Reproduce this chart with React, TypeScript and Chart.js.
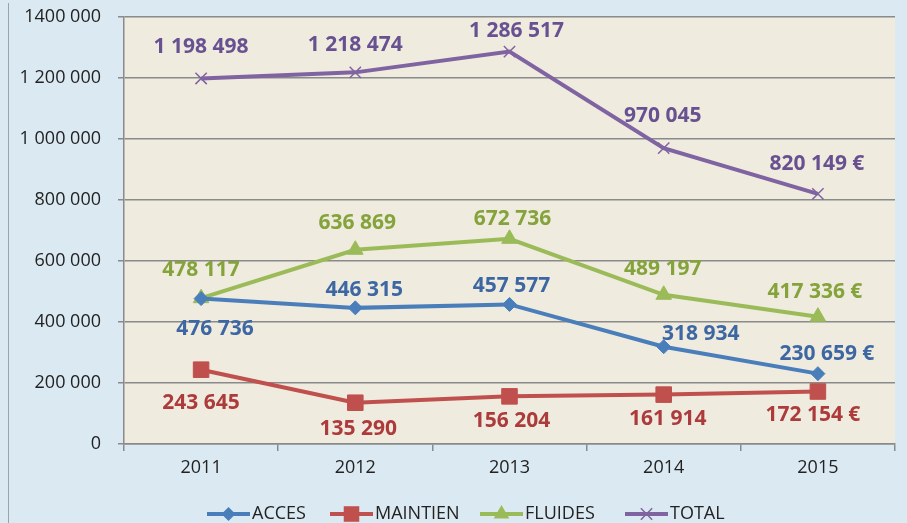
import React, { useEffect, useRef } from "react";
import { Chart, registerables } from "chart.js";

Chart.register(...registerables);

const years = ["2011", "2012", "2013", "2014", "2015"];
const acces = [476736, 446315, 457577, 318934, 230659];
const maintien = [243645, 135290, 156204, 161914, 172154];
const fluides = [478117, 636869, 672736, 489197, 417336];
const total = [1198498, 1218474, 1286517, 970045, 820149];
const seriesNames = ["ACCES", "MAINTIEN", "FLUIDES", "TOTAL"];
const yTickLabels = ["0", "200 000", "400 000", "600 000", "800 000", "1 000 000", "1 200 000", "1400 000"];

// label placement offsets (dx, dy) from each point, in pixels
const accesLabelOffsets = [[14, 30], [9, -18], [2, -18], [37, -13], [9, -20]];
const maintienLabelOffsets = [[0, 33], [3, 26], [2, 25], [4, 24], [-5, 24]];
const fluidesLabelOffsets = [[0, -28], [2, -27], [3, -20], [-1, -26], [-3, -25]];
const totalLabelOffsets = [[0, -31], [0, -27], [7, -21], [-1, -32], [-1, -30]];
const legendX = [207, 330, 480, 625];

const lineColors = ["#4a7ebb", "#c0504d", "#9bbb59", "#8064a2"];
const labelColors = ["#3d67a3", "#ad3b3b", "#84a33a", "#685190"];
const FONT = "'Open Sans', 'DejaVu Sans', sans-serif";

function fmt(v: number, last: boolean) {
  const s = String(v).replace(/\B(?=(\d{3})+(?!\d))/g, " ");
  return last ? s + " €" : s;
}

function drawMarker(ctx: CanvasRenderingContext2D, style: string, x: number, y: number, r: number, color: string) {
  ctx.save();
  ctx.fillStyle = color;
  ctx.strokeStyle = color;
  ctx.lineWidth = 1.5;
  ctx.beginPath();
  if (style === "rectRot") {
    ctx.moveTo(x, y - r); ctx.lineTo(x + r, y); ctx.lineTo(x, y + r); ctx.lineTo(x - r, y); ctx.closePath(); ctx.fill();
  } else if (style === "rect") {
    const s = r * Math.SQRT1_2;
    ctx.rect(x - s, y - s, 2 * s, 2 * s); ctx.fill();
  } else if (style === "triangle") {
    const w = r * Math.sqrt(3) / 2;
    ctx.moveTo(x, y - r); ctx.lineTo(x + w, y + r / 2); ctx.lineTo(x - w, y + r / 2); ctx.closePath(); ctx.fill();
  } else {
    const s = r * Math.SQRT1_2;
    ctx.moveTo(x - s, y - s); ctx.lineTo(x + s, y + s); ctx.moveTo(x + s, y - s); ctx.lineTo(x - s, y + s); ctx.stroke();
  }
  ctx.restore();
}

const labelsPlugin = {
  id: "customLabels",
  beforeDraw(chart: any) {
    const { ctx, chartArea } = chart;
    ctx.save();
    ctx.fillStyle = "#efebdf";
    ctx.fillRect(chartArea.left, chartArea.top, chartArea.right - chartArea.left, chartArea.bottom - chartArea.top);
    ctx.restore();
  },
  afterDatasetsDraw(chart: any) {
    const { ctx } = chart;
    const offsets = [accesLabelOffsets, maintienLabelOffsets, fluidesLabelOffsets, totalLabelOffsets];
    ctx.save();
    ctx.font = `bold 21px ${FONT}`;
    ctx.textAlign = "center";
    ctx.textBaseline = "middle";
    chart.data.datasets.forEach((ds: any, di: number) => {
      const meta = chart.getDatasetMeta(di);
      ctx.fillStyle = labelColors[di];
      meta.data.forEach((pt: any, i: number) => {
        const [dx, dy] = offsets[di][i];
        ctx.fillText(fmt(ds.data[i], i === ds.data.length - 1), pt.x + dx, pt.y + dy);
      });
    });
    ctx.restore();
  },
  afterDraw(chart: any) {
    const { ctx } = chart;
    ctx.save();
    ctx.font = `18px ${FONT}`;
    ctx.textBaseline = "middle";
    const lineLen = 43;
    const gapText = 2;
    const y = 514;
    chart.data.datasets.forEach((ds: any, di: number) => {
      const x = legendX[di];
      ctx.strokeStyle = lineColors[di];
      ctx.lineWidth = 4;
      ctx.beginPath();
      ctx.moveTo(x, y);
      ctx.lineTo(x + lineLen, y);
      ctx.stroke();
      drawMarker(ctx, ds.pointStyle, x + lineLen / 2, y, ds.pointRadius, lineColors[di]);
      ctx.fillStyle = "#222";
      ctx.fillText(seriesNames[di], x + lineLen + gapText, y);
    });
    ctx.restore();
  },
};

export default function App() {
  const ref = useRef<HTMLCanvasElement>(null);
  useEffect(() => {
    if (!ref.current) return;
    const mk = (label: string, data: number[], i: number, style: string, radius: number, bw: number) => ({
      label,
      data,
      borderColor: lineColors[i],
      backgroundColor: lineColors[i],
      borderWidth: 4,
      pointStyle: style,
      pointRadius: radius,
      pointBorderWidth: bw,
      pointBackgroundColor: lineColors[i],
      pointBorderColor: lineColors[i],
      tension: 0,
    });
    const chart = new Chart(ref.current, {
      type: "line",
      data: {
        labels: years,
        datasets: [
          mk(seriesNames[0], acces, 0, "rectRot", 7, 1),
          mk(seriesNames[1], maintien, 1, "rect", 11, 1),
          mk(seriesNames[2], fluides, 2, "triangle", 9, 1),
          mk(seriesNames[3], total, 3, "crossRot", 8, 1.5),
        ],
      },
      options: {
        responsive: false,
        animation: false,
        layout: { padding: { top: 17, right: 9, left: 0, bottom: 0 } },
        plugins: { legend: { display: false }, tooltip: { enabled: false } },
        scales: {
          x: {
            offset: true,
            afterFit: (s: any) => { s.height = 79; s.paddingLeft = 0; s.paddingRight = 0; },
            grid: { drawOnChartArea: false, drawTicks: true, tickLength: 7, color: "#8a8a8a", lineWidth: 1.5, offset: true },
            border: { display: true, color: "#8a8a8a", width: 1.5 },
            ticks: { color: "#222", font: { family: FONT, size: 18 }, padding: 6 },
          },
          y: {
            min: 0,
            max: 1400000,
            afterFit: (s: any) => { s.width = 124; s.paddingTop = 0; s.paddingBottom = 0; },
            grid: { color: "#8a8a8a", lineWidth: 1.5, drawTicks: true, tickLength: 6 },
            border: { display: true, color: "#8a8a8a", width: 1.5 },
            ticks: {
              stepSize: 200000,
              color: "#222",
              font: { family: FONT, size: 18 },
              padding: 17,
              callback: (v: any) => yTickLabels[Math.round(Number(v) / 200000)],
            },
          },
        },
      },
      plugins: [labelsPlugin],
    });
    return () => chart.destroy();
  }, []);
  return (
    <div style={{ position: "fixed", left: 0, top: 0, width: 907, height: 523, background: "#dbeaf2" }}>
      <div style={{ position: "absolute", left: 8, top: 3, width: 1, height: 520, background: "#9aa4a8" }} />
      <canvas ref={ref} width={907} height={523} style={{ position: "absolute", left: 0, top: 0 }} />
    </div>
  );
}
